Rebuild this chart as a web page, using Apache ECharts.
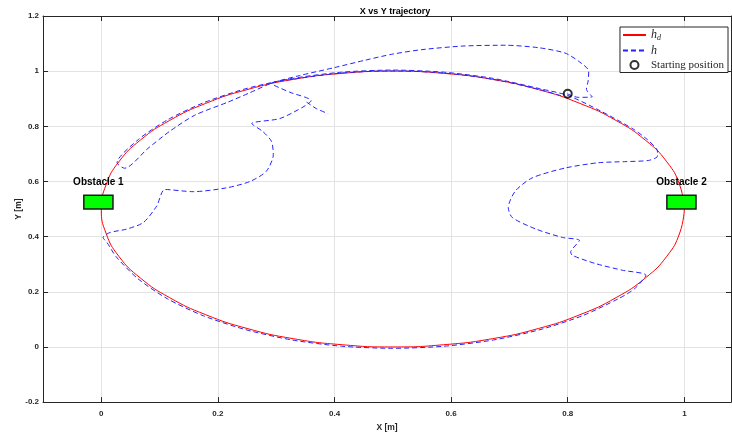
<!DOCTYPE html>
<html>
<head>
<meta charset="utf-8">
<title>X vs Y trajectory</title>
<script src="https://cdn.jsdelivr.net/npm/echarts@6/dist/echarts.min.js"></script>
<style>
  html, body { margin: 0; padding: 0; background: #fff; }
  #chart { width: 732px; height: 437px; }
</style>
</head>
<body>
<div id="chart"></div>
<script>
// desired trajectory h_d
var hdX = [1, 0.992, 0.970, 0.933, 0.883, 0.821, 0.75, 0.671, 0.587, 0.5, 0.413, 0.329, 0.25, 0.179, 0.117, 0.067, 0.030, 0.008, 0,
  0.008, 0.030, 0.067, 0.117, 0.179, 0.25, 0.329, 0.413, 0.5, 0.587, 0.671, 0.75, 0.821, 0.883, 0.933, 0.970, 0.992, 1];
var hdY = [0.5, 0.587, 0.671, 0.75, 0.821, 0.883, 0.933, 0.970, 0.992, 1, 0.992, 0.970, 0.933, 0.883, 0.821, 0.75, 0.671, 0.587, 0.5,
  0.413, 0.329, 0.25, 0.179, 0.117, 0.067, 0.030, 0.008, 0, 0.008, 0.030, 0.067, 0.117, 0.179, 0.25, 0.329, 0.413, 0.5];

// actual trajectory h (blue dashed), null = gap
var hX = [
  0.799, 0.818, 0.842, 0.832, 0.835, 0.836, 0.818, 0.795, 0.75, 0.693, 0.62, 0.55, 0.5, 0.453, 0.4, 0.34, 0.294,
  0.255, 0.2175, 0.16, 0.118, 0.08, 0.04, 0.027,
  0.0635, 0.114, 0.176, 0.248, 0.3276, 0.4125, 0.5, 0.5875, 0.6724, 0.752, 0.8,
  0.856, 0.913, 0.9365, 0.953,
  0.954, 0.953, 0.938, 0.9, 0.853, 0.796, 0.739, 0.71, 0.698, 0.705, 0.746, 0.791, 0.82, 0.805, 0.808, 0.848, 0.894, 0.934,
  0.914, 0.887, 0.825, 0.7525, 0.673, 0.588, 0.5, 0.412, 0.327, 0.2475, 0.175, 0.113, 0.0627, 0.0255, 0.01,
  0.003, 0.015, 0.043, 0.072, 0.095, 0.109, 0.158, 0.215, 0.255, 0.283, 0.295, 0.292, 0.277, 0.258, 0.306, 0.346, 0.36, 0.323, 0.292,
  0.3287, 0.413, 0.5, 0.587, 0.6713, 0.7505, 0.79,
  null,
  0.352, 0.369, 0.389
];
var hY = [
  0.918, 0.905, 0.907, 0.935, 0.965, 1.0, 1.037, 1.066, 1.085, 1.094, 1.091, 1.078, 1.062, 1.04, 1.013, 0.984, 0.958,
  0.922, 0.888, 0.84, 0.783, 0.72, 0.648, 0.668,
  0.752, 0.824, 0.886, 0.9365, 0.9736, 0.9963, 1.004, 0.9963, 0.9736, 0.9365, 0.912,
  0.856, 0.789, 0.752, 0.716,
  0.70, 0.688, 0.676, 0.672, 0.668, 0.649, 0.613, 0.565, 0.505, 0.469, 0.427, 0.397, 0.386, 0.344, 0.332, 0.302, 0.278, 0.26,
  0.21, 0.175, 0.113, 0.0627, 0.0253, 0.0026, -0.005, 0.0026, 0.0253, 0.0627, 0.113, 0.175, 0.2475, 0.327, 0.378,
  0.397, 0.415, 0.427, 0.451, 0.511, 0.571, 0.563, 0.577, 0.6, 0.637, 0.697, 0.745, 0.781, 0.81, 0.828, 0.87, 0.893, 0.924, 0.956,
  0.9708, 0.9934, 1.001, 0.9934, 0.9708, 0.9339, 0.91,
  null,
  0.888, 0.864, 0.846
];

var startX = [0.8];
var startY = [0.918];

var obsNames = ['Obstacle 1', 'Obstacle 2'];
var obsX0 = [-0.03, 0.97];
var obsX1 = [0.02, 1.02];
var obsY0 = [0.5, 0.5];
var obsY1 = [0.55, 0.55];

var sans = '"Liberation Sans", Arial, sans-serif';
var serif = '"Liberation Serif", "DejaVu Serif", serif';
var axisColor = '#262626';

function pairs(xs, ys) {
  var out = [];
  for (var i = 0; i < xs.length; i++) {
    if (xs[i] === null) {
      out.push(['-', '-']);
    } else {
      out.push([xs[i], ys[i]]);
    }
  }
  return out;
}

var obsData = [];
for (var i = 0; i < obsNames.length; i++) {
  obsData.push([obsX0[i], obsY0[i], obsX1[i], obsY1[i]]);
}

var labelStyle = { fontSize: 8, fontWeight: 'bold', color: axisColor, fontFamily: sans };

var option = {
  animation: false,
  title: {
    text: 'X vs Y trajectory',
    left: 390,
    textAlign: 'center',
    top: 2,
    textStyle: { fontSize: 9, fontWeight: 'bold', color: '#000', fontFamily: sans }
  },
  grid: { left: 43, right: 1, top: 16, bottom: 31 },
  legend: {
    orient: 'vertical',
    right: 4,
    top: 27,
    data: [
      { name: 'h_d', itemStyle: { opacity: 0 } },
      { name: 'h', itemStyle: { opacity: 0 } },
      'Starting position'
    ],
    backgroundColor: '#fff',
    borderColor: axisColor,
    borderWidth: 1,
    borderRadius: 0,
    padding: [2, 4, 2, 2],
    itemGap: 3,
    itemWidth: 23,
    itemHeight: 8,
    selectedMode: false,
    textStyle: {
      fontFamily: serif, fontSize: 11, color: axisColor,
      rich: {
        it: { fontFamily: serif, fontStyle: 'italic', fontSize: 12, color: axisColor },
        sub: { fontFamily: serif, fontStyle: 'italic', fontSize: 8, color: axisColor, padding: [5, 0, 0, 0] }
      }
    },
    formatter: function (name) {
      if (name === 'h_d') return '{it|h}{sub|d}';
      if (name === 'h') return '{it|h}';
      return name;
    }
  },
  xAxis: [{
    type: 'value',
    min: -0.1,
    max: 1.08,
    position: 'bottom',
    name: 'X [m]',
    nameLocation: 'middle',
    nameGap: 17,
    nameTextStyle: { fontSize: 8.5, fontWeight: 'bold', color: axisColor, fontFamily: sans },
    axisLine: { show: true, onZero: false, lineStyle: { color: axisColor } },
    axisTick: { show: true, inside: true, length: 5, lineStyle: { color: axisColor } },
    axisLabel: Object.assign({ margin: 8, showMinLabel: false, showMaxLabel: false }, labelStyle),
    splitLine: { show: true, lineStyle: { color: '#e3e3e3' } }
  }, {
    type: 'value',
    min: -0.1,
    max: 1.08,
    position: 'top',
    axisLine: { show: true, onZero: false, lineStyle: { color: axisColor } },
    axisTick: { show: true, inside: true, length: 5, lineStyle: { color: axisColor } },
    axisLabel: { show: false },
    splitLine: { show: false }
  }],
  yAxis: [{
    type: 'value',
    min: -0.2,
    max: 1.2,
    interval: 0.2,
    position: 'left',
    name: 'Y [m]',
    nameLocation: 'middle',
    nameGap: 20,
    nameMoveOverlap: false,
    nameTextStyle: { fontSize: 8.5, fontWeight: 'bold', color: axisColor, fontFamily: sans },
    axisLine: { show: true, onZero: false, lineStyle: { color: axisColor } },
    axisTick: { show: true, inside: true, length: 5, lineStyle: { color: axisColor } },
    axisLabel: Object.assign({ margin: 4 }, labelStyle),
    splitLine: { show: true, lineStyle: { color: '#e3e3e3' } }
  }, {
    type: 'value',
    min: -0.2,
    max: 1.2,
    interval: 0.2,
    position: 'right',
    axisLine: { show: true, onZero: false, lineStyle: { color: axisColor } },
    axisTick: { show: true, inside: true, length: 5, lineStyle: { color: axisColor } },
    axisLabel: { show: false },
    splitLine: { show: false }
  }],
  series: [
    {
      name: 'h_d',
      type: 'line',
      data: pairs(hdX, hdY),
      symbol: 'none',
      smooth: 0.5,
      lineStyle: { color: '#ff0000', width: 1 },
      itemStyle: { color: '#ff0000' },
      z: 2
    },
    {
      name: 'h',
      type: 'line',
      data: pairs(hX, hY),
      symbol: 'none',
      smooth: 0.25,
      connectNulls: false,
      lineStyle: { color: '#2323ff', width: 1, type: [5, 3] },
      itemStyle: { color: '#2323ff' },
      z: 3
    },
    {
      name: 'Starting position',
      type: 'scatter',
      data: pairs(startX, startY),
      symbol: 'circle',
      symbolSize: 8,
      itemStyle: { color: 'rgba(255,255,255,0)', borderColor: '#000', borderWidth: 2 },
      z: 6
    },
    {
      name: 'obstacles',
      type: 'custom',
      data: obsData,
      silent: true,
      z: 5,
      renderItem: function (params, api) {
        var p0 = api.coord([api.value(0), api.value(3)]);
        var p1 = api.coord([api.value(2), api.value(1)]);
        var cx = (p0[0] + p1[0]) / 2;
        return {
          type: 'group',
          children: [{
            type: 'rect',
            shape: { x: p0[0], y: p0[1], width: p1[0] - p0[0], height: p1[1] - p0[1] },
            style: { fill: '#00ff00', stroke: '#1a1a1a', lineWidth: 1.5 }
          }, {
            type: 'text',
            style: {
              text: obsNames[params.dataIndex],
              x: cx,
              y: p0[1] - 13,
              align: 'center',
              verticalAlign: 'middle',
              font: 'bold 10px ' + sans,
              fill: '#000'
            }
          }]
        };
      }
    }
  ]
};

var myChart = echarts.init(document.getElementById('chart'));
myChart.setOption(option);
</script>
</body>
</html>
